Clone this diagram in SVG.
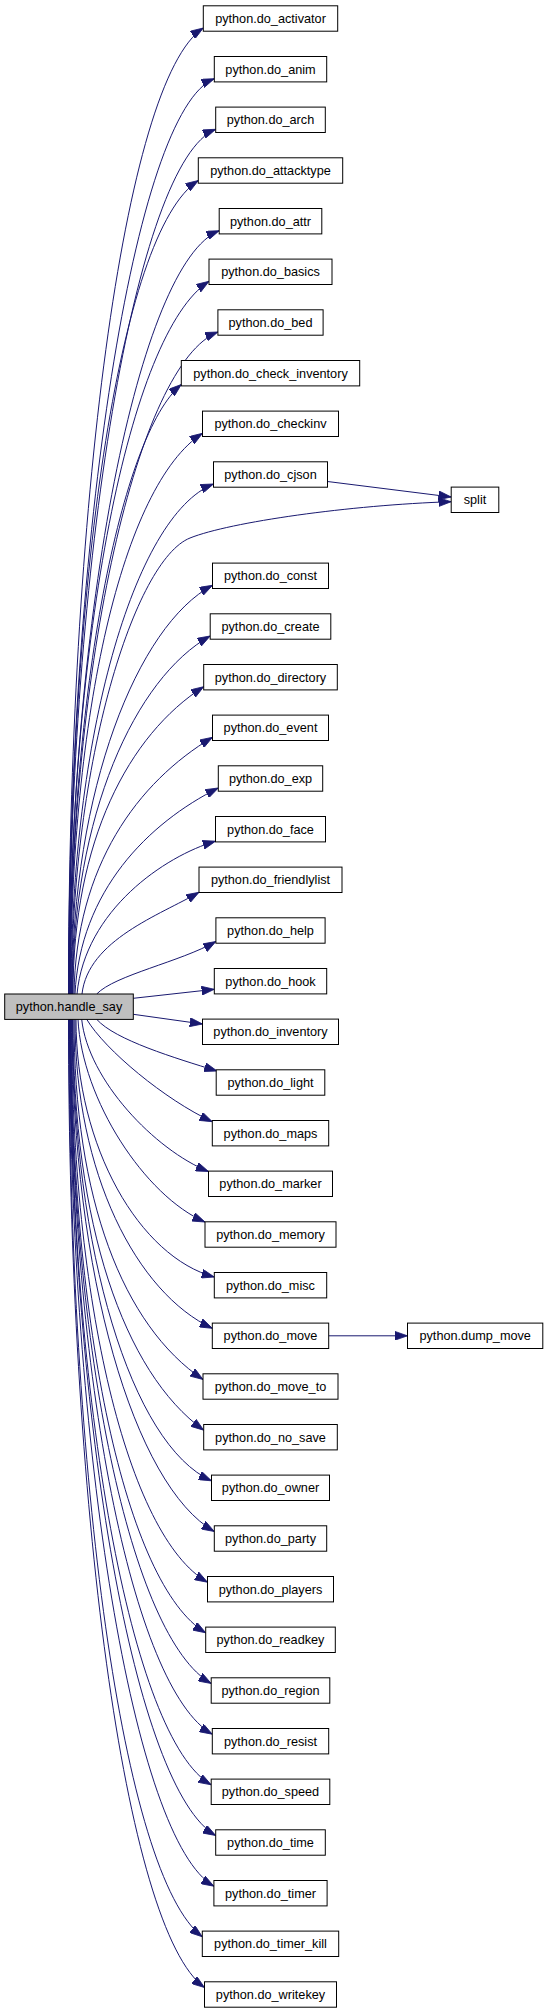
<svg xmlns="http://www.w3.org/2000/svg" width="548" height="2013" viewBox="0 0 548 2013">
<style>
.nd rect{fill:#ffffff;stroke:#000000;stroke-width:1}
.nd.root rect{fill:#bfbfbf}
.nd text{font-family:"Liberation Sans",Arial,Helvetica,sans-serif;font-size:12.7px;text-anchor:middle;fill:#000000}
#edges path{fill:none;stroke:#191970;stroke-width:1;marker-end:url(#ah)}
</style>
<defs>
<marker id="ah" markerWidth="13" markerHeight="9" refX="12.7" refY="4.45" orient="auto" markerUnits="userSpaceOnUse">
<path d="M0,0 L12.7,4.45 L0,8.9 z" fill="#191970" stroke="#191970" stroke-width="0.8"/>
</marker>
</defs>
<rect x="0" y="0" width="548" height="2013" fill="#ffffff"/>
<g id="edges">
<path d="M68.5,994 C68.5,511 123.3,80 203.3,28"/>
<path d="M68.5,994 C68.5,536.3 134.3,110.7 214.3,78.7"/>
<path d="M69,994 C69,561.6 135.7,161.3 215.7,129.3"/>
<path d="M69,994 C69,587 118.3,232.5 198.3,180.5"/>
<path d="M69.5,994 C69.5,612.4 139.2,262.7 219.2,230.7"/>
<path d="M69.5,994 C69.5,637.7 129,333.3 209,281.3"/>
<path d="M70,994 C70,663 137.9,364 217.9,332"/>
<path d="M70,994 C70,689.3 121.3,434.5 181.3,384.5"/>
<path d="M70.5,994 C70.5,713.7 122.5,485.3 202.5,433.3"/>
<path d="M71,994 C71,739 133.5,516 213.5,484"/>
<path d="M71.5,994 C71.5,760 135,560 190,538 C230,522 350,505 451.2,501.7"/>
<path d="M327.5,481.5 L451.2,497"/>
<path d="M72,994 C72,789.7 137.5,625.3 212.5,585.3"/>
<path d="M72.5,994 C72.5,815 135.2,678 210.2,636"/>
<path d="M73,994 C73,840.4 128.7,734.7 203.7,686.7"/>
<path d="M74,994 C76,865.7 137.5,782.3 212.5,737.3"/>
<path d="M75,994 C80,891 148.3,823 218.3,788"/>
<path d="M77,994 C85,910 165,856 215.5,841.2"/>
<path d="M82,994 C88,940 160,915 199,892.3"/>
<path d="M96.7,994 C115,975 180,962 215.9,941.5"/>
<path d="M133.3,998.3 L214.3,989.3"/>
<path d="M133.3,1014.3 L202.5,1024"/>
<path d="M96.7,1019.3 C115,1040 175,1058 217,1071"/>
<path d="M86.7,1019.3 C105,1050 165,1099.7 212.3,1121.7"/>
<path d="M81.7,1019.3 C88,1080 155,1150 208.5,1171.5"/>
<path d="M78,1019.3 C82,1100 145,1196 205,1222"/>
<path d="M76,1019.3 C76,1148 140,1257 214.3,1277"/>
<path d="M75,1019.3 C75,1174 137,1293 212.3,1328.3"/>
<path d="M74,1019.3 C74,1199.4 123,1325.5 203,1379.5"/>
<path d="M73,1019.3 C73,1224.8 123.7,1372.2 203.7,1430.2"/>
<path d="M72.5,1019.3 C72.5,1250 131.5,1444.8 211.5,1480.8"/>
<path d="M72,1019.3 C72,1275.4 134.3,1485.5 214.3,1531.5"/>
<path d="M71.5,1019.3 C71.5,1300.8 127.5,1536.2 207.5,1582.2"/>
<path d="M71,1019.3 C71,1326 125.7,1584.8 205.7,1632.8"/>
<path d="M70.5,1019.3 C70.5,1351.4 131.2,1637.5 211.2,1683.5"/>
<path d="M70.5,1019.3 C70.5,1376.7 132.3,1688.2 212.3,1734.2"/>
<path d="M70,1019.3 C70,1402 131.2,1738.8 211.2,1784.8"/>
<path d="M70,1019.3 C70,1427.4 135.7,1789.5 215.7,1835.5"/>
<path d="M69.5,1019.3 C69.5,1452.8 133.9,1840.2 213.9,1886.2"/>
<path d="M69,1019.3 C69,1478 122.3,1874.8 202.3,1936.8"/>
<path d="M68.5,1019.3 C68.5,1503.4 124.5,1929.5 204.5,1987.5"/>
<path d="M328.7,1335.8 L407.5,1335.8"/>
</g>
<g id="n_handle_say" class="nd root"><rect x="4.7" y="994" width="128.6" height="25.4"/><text x="69" y="1011.1">python.handle_say</text></g>
<g id="n_split" class="nd"><rect x="451.2" y="487.1" width="47.6" height="25.4"/><text x="475" y="504.2">split</text></g>
<g id="n_dump_move" class="nd"><rect x="407.5" y="1323.1" width="135.3" height="25.4"/><text x="475.2" y="1340.2">python.dump_move</text></g>
<g id="n_activator" class="nd"><rect x="203.3" y="5.8" width="134.4" height="25.4"/><text x="270.5" y="22.9">python.do_activator</text></g>
<g id="n_anim" class="nd"><rect x="214.3" y="56.5" width="112.4" height="25.4"/><text x="270.5" y="73.6">python.do_anim</text></g>
<g id="n_arch" class="nd"><rect x="215.7" y="107.1" width="109.6" height="25.4"/><text x="270.5" y="124.2">python.do_arch</text></g>
<g id="n_attacktype" class="nd"><rect x="198.3" y="157.8" width="144.4" height="25.4"/><text x="270.5" y="174.9">python.do_attacktype</text></g>
<g id="n_attr" class="nd"><rect x="219.2" y="208.5" width="102.6" height="25.4"/><text x="270.5" y="225.6">python.do_attr</text></g>
<g id="n_basics" class="nd"><rect x="209" y="259.1" width="123" height="25.4"/><text x="270.5" y="276.2">python.do_basics</text></g>
<g id="n_bed" class="nd"><rect x="217.9" y="309.8" width="105.2" height="25.4"/><text x="270.5" y="326.9">python.do_bed</text></g>
<g id="n_check_inventory" class="nd"><rect x="181.3" y="360.5" width="178.4" height="25.4"/><text x="270.5" y="377.6">python.do_check_inventory</text></g>
<g id="n_checkinv" class="nd"><rect x="202.5" y="411.1" width="136" height="25.4"/><text x="270.5" y="428.2">python.do_checkinv</text></g>
<g id="n_cjson" class="nd"><rect x="213.5" y="461.8" width="114" height="25.4"/><text x="270.5" y="478.9">python.do_cjson</text></g>
<g id="n_const" class="nd"><rect x="212.5" y="563.1" width="116" height="25.4"/><text x="270.5" y="580.2">python.do_const</text></g>
<g id="n_create" class="nd"><rect x="210.2" y="613.8" width="120.6" height="25.4"/><text x="270.5" y="630.9">python.do_create</text></g>
<g id="n_directory" class="nd"><rect x="203.7" y="664.5" width="133.6" height="25.4"/><text x="270.5" y="681.6">python.do_directory</text></g>
<g id="n_event" class="nd"><rect x="212.5" y="715.1" width="116" height="25.4"/><text x="270.5" y="732.2">python.do_event</text></g>
<g id="n_exp" class="nd"><rect x="218.3" y="765.8" width="104.4" height="25.4"/><text x="270.5" y="782.9">python.do_exp</text></g>
<g id="n_face" class="nd"><rect x="215.5" y="816.5" width="110" height="25.4"/><text x="270.5" y="833.6">python.do_face</text></g>
<g id="n_friendlylist" class="nd"><rect x="199" y="867.1" width="143" height="25.4"/><text x="270.5" y="884.2">python.do_friendlylist</text></g>
<g id="n_help" class="nd"><rect x="215.9" y="917.8" width="109.2" height="25.4"/><text x="270.5" y="934.9">python.do_help</text></g>
<g id="n_hook" class="nd"><rect x="214.3" y="968.5" width="112.4" height="25.4"/><text x="270.5" y="985.6">python.do_hook</text></g>
<g id="n_inventory" class="nd"><rect x="202.5" y="1019.1" width="136" height="25.4"/><text x="270.5" y="1036.2">python.do_inventory</text></g>
<g id="n_light" class="nd"><rect x="216.2" y="1069.8" width="108.6" height="25.4"/><text x="270.5" y="1086.9">python.do_light</text></g>
<g id="n_maps" class="nd"><rect x="212.3" y="1120.5" width="116.4" height="25.4"/><text x="270.5" y="1137.6">python.do_maps</text></g>
<g id="n_marker" class="nd"><rect x="208.5" y="1171.1" width="124" height="25.4"/><text x="270.5" y="1188.2">python.do_marker</text></g>
<g id="n_memory" class="nd"><rect x="205" y="1221.8" width="131" height="25.4"/><text x="270.5" y="1238.9">python.do_memory</text></g>
<g id="n_misc" class="nd"><rect x="214.3" y="1272.5" width="112.4" height="25.4"/><text x="270.5" y="1289.6">python.do_misc</text></g>
<g id="n_move" class="nd"><rect x="212.3" y="1323.1" width="116.4" height="25.4"/><text x="270.5" y="1340.2">python.do_move</text></g>
<g id="n_move_to" class="nd"><rect x="203" y="1373.8" width="135" height="25.4"/><text x="270.5" y="1390.9">python.do_move_to</text></g>
<g id="n_no_save" class="nd"><rect x="203.7" y="1424.5" width="133.6" height="25.4"/><text x="270.5" y="1441.6">python.do_no_save</text></g>
<g id="n_owner" class="nd"><rect x="211.5" y="1475.1" width="118" height="25.4"/><text x="270.5" y="1492.2">python.do_owner</text></g>
<g id="n_party" class="nd"><rect x="214.3" y="1525.8" width="112.4" height="25.4"/><text x="270.5" y="1542.9">python.do_party</text></g>
<g id="n_players" class="nd"><rect x="207.5" y="1576.5" width="126" height="25.4"/><text x="270.5" y="1593.6">python.do_players</text></g>
<g id="n_readkey" class="nd"><rect x="205.7" y="1627.1" width="129.6" height="25.4"/><text x="270.5" y="1644.2">python.do_readkey</text></g>
<g id="n_region" class="nd"><rect x="211.2" y="1677.8" width="118.6" height="25.4"/><text x="270.5" y="1694.9">python.do_region</text></g>
<g id="n_resist" class="nd"><rect x="212.3" y="1728.5" width="116.4" height="25.4"/><text x="270.5" y="1745.6">python.do_resist</text></g>
<g id="n_speed" class="nd"><rect x="211.2" y="1779.1" width="118.6" height="25.4"/><text x="270.5" y="1796.2">python.do_speed</text></g>
<g id="n_time" class="nd"><rect x="215.7" y="1829.8" width="109.6" height="25.4"/><text x="270.5" y="1846.9">python.do_time</text></g>
<g id="n_timer" class="nd"><rect x="213.9" y="1880.5" width="113.2" height="25.4"/><text x="270.5" y="1897.6">python.do_timer</text></g>
<g id="n_timer_kill" class="nd"><rect x="202.3" y="1931.1" width="136.4" height="25.4"/><text x="270.5" y="1948.2">python.do_timer_kill</text></g>
<g id="n_writekey" class="nd"><rect x="204.5" y="1981.8" width="132" height="25.4"/><text x="270.5" y="1998.9">python.do_writekey</text></g>
</svg>
